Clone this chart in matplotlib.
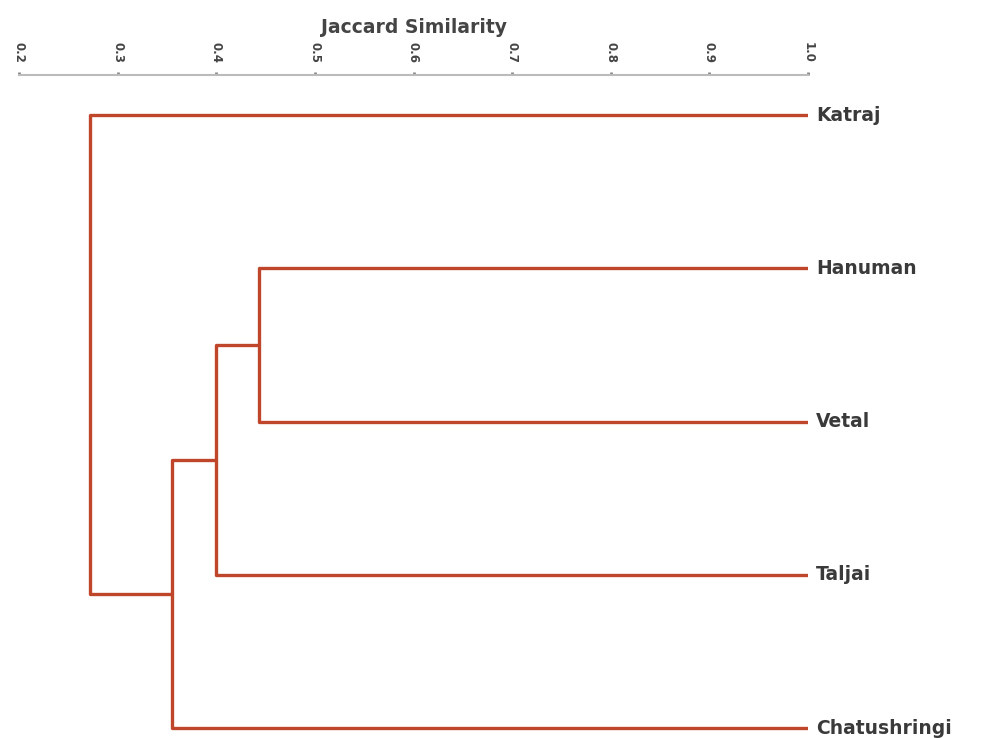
import numpy as np
import matplotlib
matplotlib.use('Agg')
from matplotlib import pyplot as plt

# leaves from top to bottom
leaves = ['Katraj', 'Hanuman', 'Vetal', 'Taljai', 'Chatushringi']
# merges: (left child, right child, similarity) ; children are leaf names or merge index
merges = [
    ('Hanuman', 'Vetal', 0.443),
    (0, 'Taljai', 0.400),
    (1, 'Chatushringi', 0.355),
    ('Katraj', 2, 0.272),
]
ticks = [0.2, 0.3, 0.4, 0.5, 0.6, 0.7, 0.8, 0.9, 1.0]

COL = '#c0462b'

fig = plt.figure(figsize=(9.83, 7.38), dpi=100)
ax = fig.add_axes([19/983, 0.0, (808-19)/983, 1 - 75/738])

pos = {}
for i, name in enumerate(leaves):
    pos[name] = (1.0, i)

for k, (a, b, s) in enumerate(merges):
    xa, ya = pos[a]
    xb, yb = pos[b]
    ax.plot([xa, s, s, xb], [ya, ya, yb, yb], color=COL, lw=2.4,
            solid_joinstyle='round', solid_capstyle='butt')
    pos[k] = (s, (ya + yb) / 2)

for i, name in enumerate(leaves):
    ax.text(1.008, i, name, va='center', ha='left', fontsize=13.5,
            fontweight='bold', color='#3a3a3a', clip_on=False)

ax.set_xlim(0.2, 1.0)
ax.set_ylim(4.065, -0.261)
ax.xaxis.tick_top()
ax.xaxis.set_label_position('top')
ax.set_xticks(ticks)
ax.set_xticklabels([f'{t:.1f}' for t in ticks], rotation=270, fontsize=8.5,
                   fontweight='bold', color='#444444')
ax.tick_params(axis='x', length=2, width=2, color='#888888', pad=7)
ax.set_yticks([])
ax.set_xlabel('Jaccard Similarity', fontsize=13.5, fontweight='bold',
              color='#444444', labelpad=6)
for sp in ['left', 'right', 'bottom']:
    ax.spines[sp].set_visible(False)
ax.spines['top'].set_color('#bbbbbb')
ax.spines['top'].set_linewidth(1.5)

plt.savefig('out.png', dpi=100)
